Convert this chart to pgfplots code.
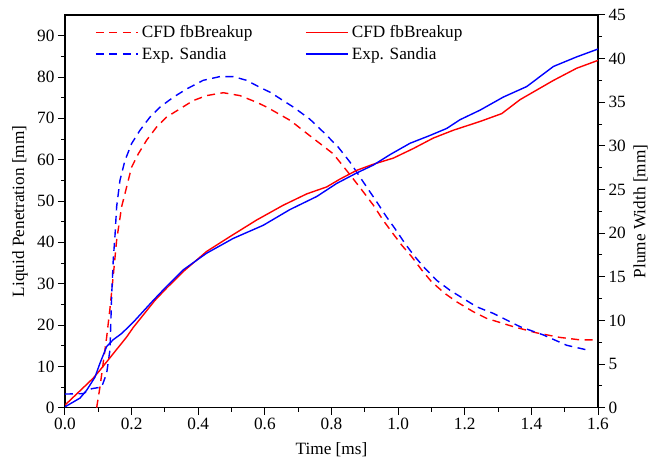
\documentclass[border=0pt]{standalone}
\usepackage{fontspec}
\setmainfont{Liberation Serif}
\usepackage{pgfplots}
\usepackage{pgfplotstable}
\pgfplotsset{compat=1.18}

\pgfplotstableread{
t v
0.095 0
0.105 5
0.115 11
0.125 17
0.135 24
0.145 32
0.155 40.5
0.170 48.6
0.185 53.4
0.200 58.2
0.220 61.4
0.245 64.7
0.275 67.9
0.305 70.3
0.345 72.3
0.385 74.3
0.425 75.5
0.475 76.2
0.525 75.5
0.575 73.9
0.606 72.7
0.676 69.5
0.746 65.1
0.7655 63.9
0.8055 61.4
0.861 55.8
0.8955 52.2
0.9255 49.0
0.9555 45.3
0.981 42.5
1.011 39.3
1.041 36.5
1.071 33.3
1.101 30.4
1.141 27.6
1.176 25.6
1.226 23.2
1.266 21.6
1.346 19.6
1.416 18.1
1.486 17.0
1.547 16.4
1.600 16.4
}\cfdpen

\pgfplotstableread{
t v
0.000 3.3
0.055 3.4
0.080 4.6
0.110 5.0
0.125 8.3
0.135 14.0
0.140 27.0
0.145 36.0
0.150 41.5
0.155 48.6
0.165 55.0
0.180 59.8
0.200 63.9
0.225 67.1
0.255 70.3
0.285 72.7
0.325 75.1
0.365 77.1
0.415 79.2
0.465 80.1
0.505 80.1
0.545 79.2
0.585 77.5
0.616 76.3
0.686 72.7
0.735 69.8
0.7805 66.3
0.8205 63.0
0.8556 59.4
0.8955 54.6
0.9357 49.8
0.9657 46.1
0.9907 43.3
1.0207 39.7
1.0507 36.5
1.0807 33.7
1.1158 30.8
1.1558 28.4
1.1957 26.4
1.236 24.4
1.286 22.8
1.366 19.6
1.436 17.6
1.506 15.1
1.571 13.9
}\exppen

\pgfplotstableread{
t v
0 0.3
0.055 2.3
0.085 3.4
0.105 4.3
0.145 6.2
0.185 8.1
0.205 9.2
0.270 12.3
0.305 13.7
0.355 15.6
0.425 17.9
0.495 19.6
0.575 21.5
0.655 23.2
0.7256 24.5
0.7856 25.3
0.8256 26.2
0.8757 27.2
0.9255 27.9
0.9856 28.6
1.0457 29.7
1.1057 30.9
1.166 31.8
1.246 32.8
1.311 33.7
1.366 35.3
1.466 37.5
1.536 38.9
1.600 39.8
}\cfdwid

\pgfplotstableread{
t v
0 0.1
0.045 1.1
0.065 2.0
0.090 3.5
0.105 5.1
0.125 7.0
0.145 7.8
0.170 8.5
0.205 9.8
0.265 12.3
0.305 13.9
0.355 15.8
0.425 17.7
0.505 19.4
0.595 20.9
0.675 22.7
0.7556 24.2
0.8156 25.7
0.8757 26.9
0.9255 27.8
0.9757 29.0
1.0357 30.3
1.0958 31.2
1.1458 32.0
1.1858 33.0
1.246 34.1
1.316 35.6
1.386 36.8
1.466 39.1
1.536 40.2
1.600 41.1
}\expwid

\newcommand{\myfont}{\fontsize{17.3}{20}\selectfont}

\pgfplotsset{
  myax/.style={
    scale only axis, width=533bp, height=392.7bp,
    at={(0,0)}, anchor=south west,
    xmin=0, xmax=1.6,
    tick align=outside,
    major tick length=7bp, minor tick length=4bp,
    every tick/.style={black, line width=1bp},
    axis line style={black, line width=1.3bp},
    tick label style={font=\myfont},
    label style={font=\myfont},
    /pgf/number format/assume math mode=true,
  },
  dashedline/.style={line width=1.4bp, dash pattern=on 8bp off 5.5bp},
  solidline/.style={line width=1.4bp},
}

\begin{document}
\begin{tikzpicture}
\useasboundingbox (-65bp,-52.3bp) rectangle (583bp,407.7bp);
\begin{axis}[
  myax,
  ymin=0, ymax=95,
  tick pos=left,
  xtick={0,0.2,0.4,0.6,0.8,1.0,1.2,1.4,1.6},
  minor x tick num=1,
  ytick={0,10,20,30,40,50,60,70,80,90},
  minor y tick num=1,
  xticklabel style={/pgf/number format/.cd, fixed, fixed zerofill, precision=1},
  xlabel={Time [ms]},
  ylabel={Liquid Penetration [mm]},
  xlabel style={at={(axis description cs:0.5,-0.1192)}, anchor=base},
  ylabel style={at={(axis description cs:-0.0769,0.5)}, anchor=base},
  legend columns=2,
  legend cell align=left,
  legend image code/.code={\draw[#1] (0bp,0bp) -- (42bp,0bp);},
  legend style={draw=none, fill=none, font=\myfont,
    at={(axis description cs:0.0563,0.978)}, anchor=north west,
    inner sep=0pt,
    nodes={inner xsep=0pt, inner ysep=2bp},
    row sep=4bp,
    /tikz/every odd column/.append style={column sep=3.3bp},
    /tikz/every even column/.append style={column sep=52.7bp}},
]
\addplot[red, dashedline] table[x=t, y=v] {\cfdpen};
\addlegendentry{CFD fbBreakup}
\addlegendimage{red, solidline}
\addlegendentry{CFD fbBreakup}
\addplot[blue, dashedline] table[x=t, y=v] {\exppen};
\addlegendentry{Exp. Sandia}
\addlegendimage{blue, solidline}
\addlegendentry{Exp. Sandia}
\end{axis}
\begin{axis}[
  myax,
  ymin=0, ymax=45,
  axis x line=none,
  axis y line*=right,
  ytick={0,5,10,15,20,25,30,35,40,45},
  minor y tick num=1,
  ylabel={Plume Width [mm]},
  ylabel style={at={(axis description cs:1.0891,0.5)}, anchor=base},
]
\addplot[red, solidline] table[x=t, y=v] {\cfdwid};
\addplot[blue, solidline] table[x=t, y=v] {\expwid};
\end{axis}
\end{tikzpicture}
\end{document}
